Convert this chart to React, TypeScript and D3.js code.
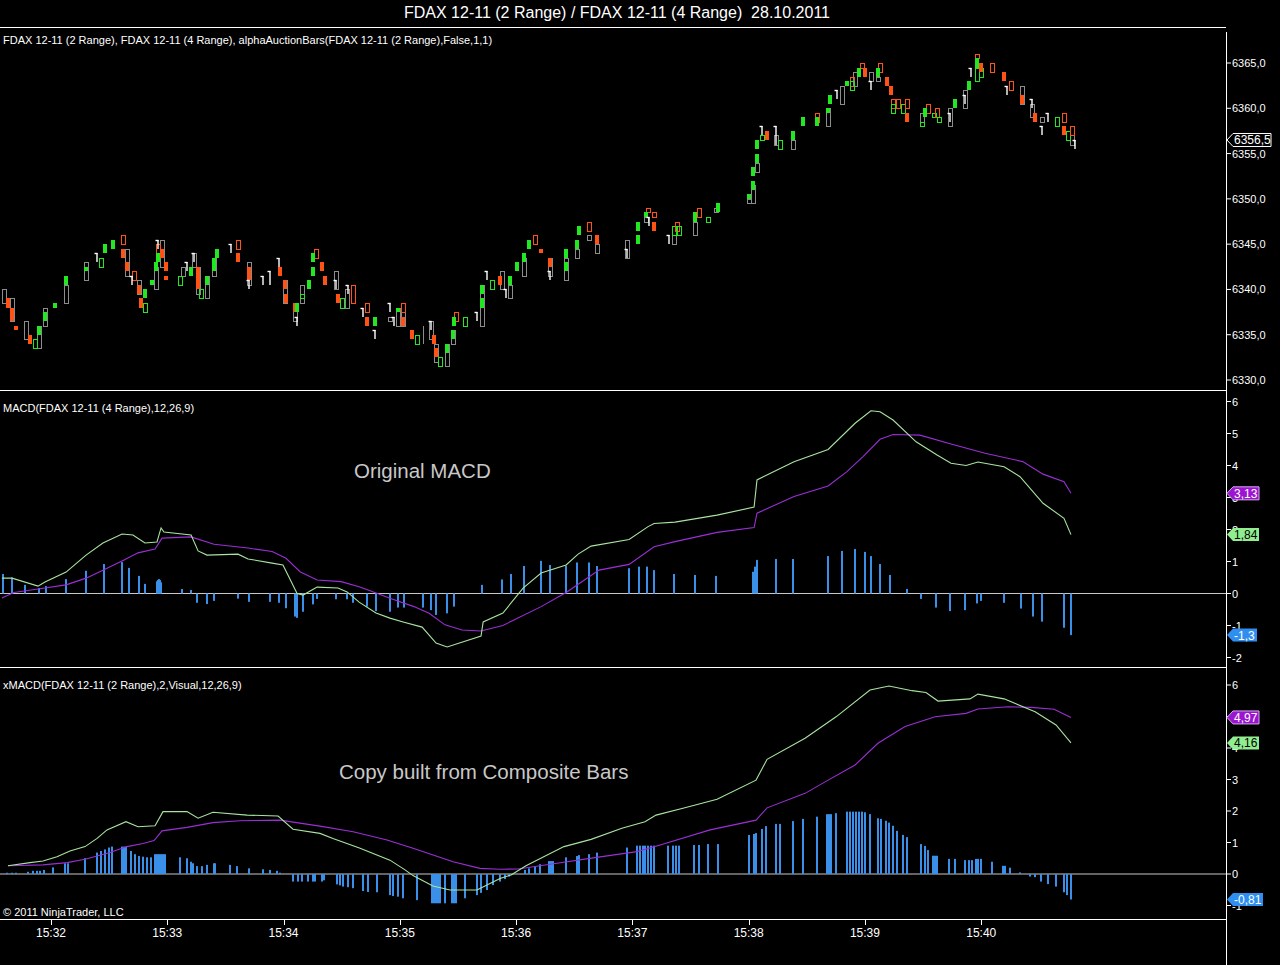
import * as d3 from 'd3';

// time is seconds after 15:31:00
const timeTicks = [60, 120, 180, 240, 300, 360, 420, 480, 540];
const timeLabels = ['15:32', '15:33', '15:34', '15:35', '15:36', '15:37', '15:38', '15:39', '15:40'];

const priceTicks = [6330, 6335, 6340, 6345, 6350, 6355, 6360, 6365];
const macdTicks = [-2, -1, 0, 1, 2, 3, 4, 5, 6];
const xmacdTicks = [-1, 0, 1, 2, 3, 4, 5, 6];
const lastPrice = 6356.5;

// [time, body top, body bottom, style]  G/R filled, g/r hollow, x grey 4-range, w doji, k wick only
const candles: [number, number, number, string][] = [
  [36, 6340, 6338.5, 'x'], [38, 6339, 6338, 'R'], [40, 6339, 6336.5, 'x'], [40, 6338, 6336.5, 'R'],
  [42, 6336, 6335.5, 'R'], [47, 6336.5, 6334.5, 'x'], [49, 6335, 6334, 'R'], [52, 6334.5, 6333.5, 'g'],
  [54, 6336, 6333.5, 'x'], [54, 6336, 6335, 'G'], [57, 6338, 6336, 'x'], [57, 6337.5, 6336.5, 'G'],
  [62, 6338.5, 6338, 'G'], [68, 6341.5, 6340.5, 'G'], [68, 6340.5, 6338.5, 'x'], [78, 6343, 6341, 'x'],
  [78, 6342.5, 6342, 'G'], [84, 6344, 6343, 'w'], [86, 6343.5, 6342.5, 'g'], [88, 6345, 6344, 'G'],
  [92, 6345.5, 6344.5, 'G'], [97, 6346, 6345, 'r'], [97, 6344.5, 6343.5, 'R'], [99, 6344.5, 6341.5, 'x'],
  [99, 6343, 6342, 'R'], [102, 6341.5, 6340.5, 'w'], [103, 6342, 6341, 'r'], [105.4, 6341, 6339.5, 'x'],
  [105.4, 6340.5, 6339.5, 'R'], [106.5, 6339, 6338, 'R'], [108.5, 6338.5, 6337.5, 'g'], [108.5, 6340, 6339, 'G'],
  [112, 6341, 6340.5, 'G'], [114, 6342.5, 6340, 'x'], [114, 6343, 6342, 'G'], [115.2, 6345, 6344, 'r'],
  [115.2, 6344, 6343, 'G'], [115.2, 6345.5, 6344.5, 'w'], [117.3, 6345.5, 6342.5, 'x'], [117.3, 6344.5, 6343.5, 'R'],
  [119.4, 6343, 6342, 'R'], [119.4, 6341.5, 6341, 'R'], [126.6, 6341.5, 6340.5, 'g'], [128.1, 6342.5, 6341.5, 'x'],
  [130.2, 6343, 6342, 'w'], [132.3, 6342.5, 6341.5, 'G'], [133.8, 6344, 6342.5, 'x'], [133.8, 6344, 6343, 'w'],
  [135.9, 6342.5, 6339.5, 'x'], [135.9, 6342.5, 6340, 'R'], [137.4, 6340, 6339, 'g'], [140.5, 6341.5, 6339, 'x'],
  [140.5, 6341.5, 6340.5, 'G'], [144.1, 6343.5, 6341.5, 'x'], [144.1, 6343.5, 6342, 'G'], [145.7, 6344.5, 6343.5, 'G'],
  [152.9, 6345, 6344, 'w'], [156.5, 6345.5, 6344.5, 'r'], [156.5, 6344, 6343, 'R'], [162.2, 6343, 6340.5, 'x'],
  [162.2, 6342.5, 6341, 'R'], [162.2, 6341, 6340, 'w'], [169.4, 6341.5, 6340.5, 'w'], [173, 6342, 6340.5, 'w'],
  [177.7, 6343.5, 6342.5, 'w'], [178.2, 6342.5, 6341.5, 'R'], [180.8, 6341, 6338.5, 'x'], [180.8, 6341, 6340, 'R'],
  [181.3, 6339.5, 6338.5, 'R'], [186, 6338.5, 6336.5, 'x'], [186, 6338.5, 6337.5, 'R'], [187, 6338.5, 6337.5, 'G'],
  [187, 6337, 6336, 'w'], [189.6, 6340.5, 6338.5, 'x'], [189.6, 6339.5, 6339, 'g'], [193.2, 6341, 6340, 'G'],
  [195.2, 6342.5, 6341.5, 'G'], [195.2, 6344, 6343, 'G'], [196.8, 6344.5, 6343.5, 'r'], [199.9, 6343, 6342, 'R'],
  [201.4, 6341.5, 6340.5, 'R'], [207.1, 6342, 6340, 'x'], [207.1, 6341, 6340, 'w'], [208.1, 6339.5, 6338.5, 'R'],
  [210.2, 6339, 6338, 'g'], [212.8, 6340, 6338, 'x'], [213.3, 6340.5, 6339.5, 'w'], [215.9, 6340.5, 6338.5, 'r'],
  [221, 6338, 6337, 'w'], [223.1, 6338.5, 6337.5, 'r'], [223.1, 6337, 6336, 'R'], [227.2, 6337, 6336, 'G'],
  [227.2, 6335.5, 6334.5, 'w'], [235, 6338.5, 6337.5, 'w'], [235, 6337, 6336.5, 'x'], [237, 6337, 6336, 'w'],
  [239.1, 6338, 6336, 'x'], [239.1, 6338, 6337.5, 'G'], [241.7, 6338.5, 6336, 'x'], [241.7, 6338.5, 6337.5, 'r'],
  [241.7, 6337, 6336, 'R'], [246.3, 6335.5, 6334.5, 'R'], [248.9, 6335, 6334, 'g'], [252, 6336, 6334, 'k'],
  [256.1, 6336.5, 6334.5, 'x'], [256.1, 6336.5, 6335.5, 'w'], [257.6, 6335, 6334, 'R'], [258.7, 6334, 6332, 'x'],
  [258.7, 6333.5, 6332.5, 'R'], [260.7, 6332.5, 6331.5, 'g'], [264.4, 6334, 6331.5, 'x'], [264.4, 6334, 6333, 'G'],
  [267.5, 6335.5, 6334, 'x'], [267.5, 6335.5, 6334.5, 'G'], [268, 6337, 6336, 'G'], [269, 6337.5, 6336.5, 'r'],
  [273.7, 6337, 6336, 'g'], [279.9, 6337.5, 6336.5, 'w'], [282.4, 6340.5, 6336, 'x'], [282.4, 6339, 6338, 'G'],
  [282.4, 6340.5, 6339.5, 'G'], [285, 6342, 6341, 'w'], [287.6, 6341, 6340, 'g'], [291.7, 6341.5, 6340.5, 'R'],
  [292.8, 6342, 6340, 'x'], [294.8, 6340, 6339, 'w'], [296.9, 6341.5, 6340.5, 'G'], [296.9, 6340.5, 6339, 'x'],
  [300.5, 6343, 6342, 'G'], [304.1, 6343.5, 6341.5, 'x'], [304.1, 6344, 6343, 'G'], [306.7, 6345.5, 6344.5, 'G'],
  [309.8, 6346, 6345, 'r'], [312.9, 6344.5, 6344, 'R'], [317.5, 6343.5, 6341.5, 'x'], [317.5, 6343.5, 6342.5, 'R'],
  [317.5, 6342, 6341, 'w'], [325.8, 6343.5, 6341, 'x'], [325.8, 6344.5, 6343.5, 'G'], [325.8, 6343, 6342, 'G'],
  [331.5, 6345.5, 6344.5, 'G'], [331.5, 6344.5, 6343.5, 'x'], [332.5, 6347, 6346, 'G'], [337.7, 6347.5, 6346.5, 'r'],
  [337.7, 6346, 6345.5, 'x'], [341.8, 6346, 6345, 'R'], [341.8, 6345, 6344, 'x'], [357.3, 6345.5, 6343.5, 'x'],
  [357.3, 6344.5, 6343.5, 'w'], [363, 6346, 6345, 'G'], [363, 6347.5, 6346.5, 'G'], [367.1, 6348.5, 6348, 'G'],
  [367.1, 6348, 6347.5, 'x'], [368.1, 6349, 6348.5, 'r'], [368.6, 6348, 6347, 'w'], [371.2, 6348.5, 6348, 'r'],
  [371.2, 6347.5, 6346.5, 'R'], [379, 6346, 6345, 'w'], [381.5, 6347, 6345, 'x'], [381.5, 6347, 6346, 'g'],
  [383.1, 6347.5, 6346.5, 'r'], [384.1, 6347, 6346, 'g'], [392.3, 6348.5, 6347.5, 'G'], [392.3, 6347.5, 6346, 'x'],
  [394.4, 6349, 6348, 'r'], [399, 6348, 6347.5, 'g'], [403.2, 6349, 6348.5, 'x'], [404.2, 6349.5, 6348.5, 'G'],
  [420.2, 6350.5, 6350, 'G'], [420.2, 6350, 6349.5, 'x'], [422.3, 6351.5, 6349.5, 'x'], [422.3, 6352, 6351, 'G'],
  [422.3, 6353.5, 6352.5, 'G'], [424.4, 6356.5, 6355.5, 'G'], [424.4, 6355, 6354, 'G'], [424.4, 6354, 6353, 'x'],
  [427, 6358, 6357, 'w'], [427, 6357, 6356.5, 'g'], [429.5, 6357.5, 6356.5, 'R'], [434.2, 6358, 6356, 'w'],
  [434.2, 6357, 6356, 'x'], [436.2, 6356.5, 6355.5, 'g'], [443, 6357.5, 6356.5, 'G'], [443, 6356.5, 6355.5, 'x'],
  [448.1, 6359, 6358, 'G'], [455.3, 6359.5, 6358.5, 'r'], [455.3, 6359, 6358, 'G'], [461, 6360, 6358, 'x'],
  [461, 6360, 6359.5, 'G'], [462, 6361.5, 6360.5, 'G'], [465.6, 6362, 6361, 'w'], [468.2, 6362.5, 6360.5, 'x'],
  [470.8, 6363, 6362.5, 'G'], [473.4, 6363.5, 6362.5, 'r'], [473.4, 6363, 6362, 'g'], [475, 6364, 6362.5, 'x'],
  [477, 6364.5, 6363.5, 'G'], [478.6, 6365, 6364.5, 'r'], [480.1, 6364.5, 6363.5, 'R'], [483.2, 6364, 6363, 'x'],
  [483.2, 6363, 6362, 'w'], [486.8, 6364.5, 6363.5, 'G'], [486.8, 6363.5, 6363, 'x'], [487.8, 6365, 6364, 'r'],
  [491.5, 6363.5, 6362.5, 'R'], [493.5, 6362.5, 6361.5, 'R'], [494.5, 6361, 6360, 'r'], [494.5, 6360.5, 6359.5, 'g'],
  [497.1, 6361, 6360, 'r'], [499.7, 6360.5, 6359.5, 'g'], [501.8, 6361, 6360, 'r'], [501.8, 6359.5, 6358.5, 'R'],
  [509.5, 6359.5, 6358, 'x'], [509.5, 6358.5, 6358, 'g'], [511.1, 6360, 6359, 'G'], [512.6, 6360.5, 6359.5, 'r'],
  [515.7, 6359.5, 6359, 'g'], [517.2, 6360, 6359, 'r'], [518.3, 6359, 6358.5, 'g'], [524, 6360, 6358, 'x'],
  [524, 6359.5, 6358.5, 'w'], [526.5, 6361, 6360, 'G'], [531.7, 6362, 6360, 'x'], [531.7, 6361.5, 6360.5, 'w'],
  [533.7, 6363, 6362, 'G'], [534.8, 6364.5, 6363.5, 'w'], [537.9, 6366, 6365.5, 'r'], [537.9, 6365.5, 6364.5, 'G'],
  [537.9, 6364.5, 6363, 'g'], [540, 6365, 6364, 'R'], [540, 6364.5, 6363.5, 'g'], [545.6, 6365, 6364, 'r'],
  [551.8, 6364, 6363, 'R'], [553.4, 6362.5, 6361.5, 'w'], [555.4, 6363, 6362, 'r'], [561.1, 6362.5, 6360.5, 'x'],
  [561.1, 6361.5, 6360.5, 'R'], [566.3, 6361, 6360, 'w'], [566.3, 6360.5, 6359, 'x'], [567.8, 6359.5, 6358.5, 'R'],
  [571.5, 6358, 6357, 'w'], [571.5, 6359, 6358.5, 'x'], [574.5, 6359.5, 6358.5, 'w'], [579.2, 6359, 6358, 'g'],
  [582.8, 6359.5, 6358.5, 'r'], [582.8, 6358, 6357, 'R'], [584.9, 6357.5, 6356.5, 'g'], [587, 6358, 6357, 'r'],
  [587, 6357, 6356, 'x'], [588.5, 6356.5, 6355.5, 'w'],
];

// MACD(4 Range) [time, value]
const macdLine: [number, number][] = [
  [34.7, 0.48], [39.9, 0.48], [53.3, 0.23], [56.9, 0.36], [67.8, 0.67], [78.1, 1.2], [86.8, 1.58], [96.7, 1.86],
  [102.3, 1.83], [108.5, 1.58], [114.7, 1.61], [116.8, 2.05], [118.3, 1.92], [132.3, 1.83], [135.9, 1.33],
  [140.5, 1.2], [156.5, 1.23], [161.7, 1.08], [174.1, 0.95], [179.7, 0.89], [187, 0.0], [190.1, -0.05],
  [197.3, 0.2], [208.1, 0.17], [212.8, 0.05], [219, -0.27], [227.7, -0.61], [234.9, -0.77], [241.7, -0.89],
  [251.5, -1.05], [258.7, -1.55], [264.4, -1.67], [281.9, -1.33], [283, -0.89], [293.2, -0.61], [303.6, 0.17],
  [312.9, 0.64], [325.8, 0.89], [332, 1.23], [338.7, 1.48], [358.3, 1.69], [368.1, 2.09], [371.2, 2.19],
  [382, 2.23], [403.7, 2.45], [422.8, 2.7], [424.3, 3.55], [443.4, 4.12], [461, 4.5], [474.9, 5.32],
  [483.1, 5.71], [487.8, 5.68], [494.5, 5.42], [506.4, 4.74], [517.2, 4.33], [524.4, 4.07], [532.2, 4.0],
  [538.3, 4.11], [551.8, 3.96], [560, 3.65], [571.9, 2.82], [582.7, 2.35], [586.3, 1.84],
];
const macdAvg: [number, number][] = [
  [34.7, -0.14], [40.9, 0.03], [53.3, 0.14], [67.8, 0.27], [78.1, 0.48], [86.8, 0.73], [97.7, 1.05],
  [104.9, 1.27], [113.7, 1.39], [117.3, 1.73], [132.3, 1.77], [144.1, 1.54], [161.7, 1.42], [174.1, 1.31],
  [181.3, 1.1], [188.5, 0.68], [197.3, 0.42], [209.7, 0.37], [219, 0.21], [225.7, 0.06], [234.9, -0.15],
  [247.3, -0.41], [255.1, -0.62], [263.3, -0.98], [272.1, -1.14], [281.9, -1.17], [293.2, -1.0],
  [312.9, -0.41], [325.8, 0.03], [342.8, 0.73], [358.3, 0.91], [371.2, 1.46], [382, 1.62], [403.7, 1.91],
  [422.8, 2.06], [424.3, 2.51], [443.4, 3.03], [461, 3.36], [470.7, 3.81], [479, 4.28], [487.8, 4.82],
  [494.5, 4.97], [508.4, 4.95], [524.4, 4.67], [542, 4.38], [561.6, 4.12], [571.9, 3.73], [582.7, 3.49],
  [586.3, 3.13],
];
const macdDiff: [number, number][] = [
  [35.2, 0.61], [39.9, 0.5], [46.6, 0.27], [53.8, 0.17], [57.4, 0.23], [67.8, 0.45], [78.1, 0.71], [87.4, 0.92],
  [96.7, 0.98], [100.3, 0.8], [105.4, 0.55], [108.5, 0.3], [114.7, 0.38], [115.2, 0.42], [115.7, 0.45],
  [116.3, 0.42], [116.8, 0.35], [127.6, 0.14], [132.3, 0.11], [135.4, -0.29], [140.5, -0.33], [144.1, -0.23],
  [156.5, -0.16], [162.2, -0.26], [173, -0.26], [177.7, -0.29], [181.3, -0.46], [186, -0.72], [187, -0.76],
  [190.1, -0.57], [195.2, -0.34], [197.3, -0.17], [207.1, -0.18], [212.8, -0.18], [215.9, -0.29],
  [223.1, -0.41], [227.7, -0.55], [234.9, -0.57], [239.1, -0.44], [242.2, -0.44], [252, -0.44],
  [256.1, -0.52], [258.7, -0.67], [264.4, -0.62], [268, -0.41], [282.4, 0.27], [292.7, 0.44], [297.4, 0.61],
  [304.1, 0.86], [312.9, 1.02], [317.5, 0.89], [325.8, 0.87], [331.4, 0.97], [337.6, 0.97], [341.8, 0.86],
  [358.3, 0.79], [363.4, 0.84], [367.6, 0.84], [371.2, 0.73], [381.5, 0.61], [392.3, 0.58], [403.2, 0.55],
  [422.3, 0.68], [423.3, 0.84], [424.3, 1.05], [434.1, 1.08], [442.9, 1.08], [461, 1.17], [468.2, 1.33],
  [474.9, 1.39], [480.1, 1.3], [483.1, 1.17], [487.8, 0.92], [493, 0.58], [501.7, 0.14], [508.9, -0.17],
  [516.7, -0.44], [523.9, -0.55], [531.6, -0.52], [537.8, -0.31], [539.9, -0.23], [551.8, -0.29],
  [560.5, -0.47], [566.7, -0.72], [571.4, -0.88], [582.7, -1.07], [586.3, -1.3],
];

// xMACD(2 Range) built from composite bars
const xmacdLine: [number, number][] = [
  [37.8, 0.26], [49.2, 0.36], [55.9, 0.41], [63.1, 0.55], [69.8, 0.73], [77.6, 0.87], [83.8, 1.13], [88.9, 1.4],
  [98.7, 1.66], [104.9, 1.5], [113.7, 1.53], [117.8, 1.98], [130.2, 1.98], [135.9, 1.77], [143.6, 1.96],
  [161.2, 1.87], [177.2, 1.84], [184.9, 1.42], [198.8, 1.29], [205.5, 1.13], [219.5, 0.82], [234.9, 0.44],
  [242.7, 0.13], [246.8, -0.05], [257.1, -0.38], [265.9, -0.51], [279.8, -0.51], [291.7, -0.14],
  [297.4, -0.03], [305.1, 0.26], [324.7, 0.87], [338.7, 1.1], [354.6, 1.45], [366.5, 1.66], [372.2, 1.87],
  [386.1, 2.09], [403.7, 2.37], [423.8, 2.98], [429.5, 3.64], [449.1, 4.31], [465.1, 4.99], [482.6, 5.84],
  [492.4, 5.97], [504.3, 5.82], [511.5, 5.76], [517.7, 5.49], [534.2, 5.56], [538.3, 5.71], [551.8, 5.56],
  [567.8, 5.15], [578.6, 4.73], [586.3, 4.16],
];
const xmacdAvg: [number, number][] = [
  [37.8, 0.26], [55.9, 0.29], [68.3, 0.36], [77.6, 0.47], [90.5, 0.68], [99.2, 0.87], [107.5, 0.97],
  [113.2, 1.06], [117.3, 1.37], [130.2, 1.48], [143.6, 1.63], [157.5, 1.69], [178.2, 1.71], [198.8, 1.52],
  [215.9, 1.34], [233.4, 1.08], [246.8, 0.82], [267.5, 0.39], [281.4, 0.18], [291.7, 0.15], [301, 0.16],
  [321.1, 0.34], [340.7, 0.52], [362.4, 0.71], [374.3, 0.92], [400.1, 1.4], [423.8, 1.71], [429.5, 2.1],
  [449.1, 2.56], [461, 2.98], [474.9, 3.46], [486.7, 4.15], [500.7, 4.68], [516.2, 4.99], [532.2, 5.1],
  [538.3, 5.24], [553.8, 5.31], [565.7, 5.29], [577.6, 5.23], [586.3, 4.97],
];
const xmacdDiff: [number, number][] = [
  [37.3, 0.04], [39.9, 0.04], [42, 0.04], [48.1, 0.07], [50.7, 0.1], [52.8, 0.1], [54.3, 0.1], [56.4, 0.13],
  [61, 0.21], [67.2, 0.34], [68.8, 0.34], [77.6, 0.5], [83.8, 0.68], [85.8, 0.73], [87.9, 0.78], [89.9, 0.84],
  [91.5, 0.87], [96.7, 0.87], [97.7, 0.87], [98.7, 0.87], [101.3, 0.73], [103.4, 0.63], [105.4, 0.57],
  [107.5, 0.55], [109.6, 0.53], [111.6, 0.53], [113.7, 0.63], [114.7, 0.63], [115.7, 0.63], [116.8, 0.63],
  [117.8, 0.63], [118.8, 0.63], [126.6, 0.53], [130.2, 0.5], [132.3, 0.39], [133.3, 0.34], [135.4, 0.25],
  [138, 0.25], [140.5, 0.29], [144.1, 0.34], [144.6, 0.34], [152.4, 0.29], [156, 0.25], [162.2, 0.18],
  [169.4, 0.15], [173, 0.13], [176.6, 0.1], [178.2, 0.04], [184.9, -0.24], [187.5, -0.24], [189.5, -0.24],
  [192.6, -0.24], [195.2, -0.24], [196.2, -0.24], [199.9, -0.24], [200.9, -0.2], [207.6, -0.33],
  [209.1, -0.36], [210.7, -0.4], [213.3, -0.42], [215.9, -0.45], [221, -0.54], [223.6, -0.57], [228.2, -0.58],
  [234.9, -0.67], [236.5, -0.7], [239.1, -0.72], [241.7, -0.77], [248.9, -0.83], [256.6, -0.93],
  [257.6, -0.93], [258.7, -0.93], [259.7, -0.93], [260.7, -0.93], [263.3, -0.93], [266.9, -0.93], [268, -0.93],
  [269, -0.93], [273.6, -0.77], [279.8, -0.67], [281.9, -0.6], [285, -0.51], [288.1, -0.35], [291.7, -0.24],
  [294.3, -0.16], [296.3, -0.08], [304.6, 0.13], [306.7, 0.18], [309.8, 0.25], [312.3, 0.31], [317, 0.41],
  [318, 0.41], [319, 0.41], [325.8, 0.53], [331.4, 0.57], [332.5, 0.6], [337.6, 0.63], [341.8, 0.68],
  [357.2, 0.84], [362.4, 0.9], [364, 0.9], [365.5, 0.9], [366.5, 0.9], [368.1, 0.9], [369.6, 0.9], [371.2, 0.9],
  [378.4, 0.9], [381, 0.9], [382.5, 0.9], [384.1, 0.9], [391.8, 0.92], [394.4, 0.92], [399, 0.95],
  [404.2, 0.95], [420.2, 1.24], [422.8, 1.27], [423.8, 1.3], [426.9, 1.43], [429, 1.52], [434.1, 1.59],
  [436.2, 1.59], [442.9, 1.68], [448.1, 1.75], [455.3, 1.82], [460.4, 1.9], [461.5, 1.9], [462.5, 1.9],
  [465.1, 1.93], [470.8, 1.98], [472.3, 1.98], [473.9, 1.98], [475.4, 1.98], [477, 1.98], [478.5, 1.98],
  [480.1, 1.96], [482.6, 1.9], [486.7, 1.77], [488.3, 1.75], [490.9, 1.69], [492.4, 1.63], [494.5, 1.53],
  [496.6, 1.37], [499.7, 1.24], [501.7, 1.17], [508.9, 0.95], [511, 0.89], [512.5, 0.76], [515.1, 0.58],
  [516.2, 0.58], [517.2, 0.58], [523.4, 0.48], [526.5, 0.48], [531.6, 0.44], [533.7, 0.44], [535.3, 0.44],
  [537.3, 0.48], [538.4, 0.48], [539.9, 0.48], [545.6, 0.39], [551.3, 0.26], [552.3, 0.26], [554.9, 0.2],
  [560, 0.05], [565.2, -0.08], [567.8, -0.1], [570.9, -0.24], [574.5, -0.32], [578.6, -0.4], [582.7, -0.58],
  [584.3, -0.67], [586.3, -0.81],
];

const FONT = "'Liberation Sans', Arial, sans-serif";
const AXIS_X = 1226;
const GREEN = '#22e822';
const ORANGE = '#ff5214';
const GREY = '#8c8c8c';
const LINE_GREEN = '#a8e4a0';
const PURPLE = '#9a2fd6';
const BLUE = '#3a8fe8';

const x = d3.scaleLinear().domain([33.7, 666.3]).range([0, AXIS_X]);
const yPrice = d3.scaleLinear().domain([6330, 6365]).range([380, 63]);
const yMacd = d3.scaleLinear().domain([0, 6]).range([593.5, 401.5]);
const yX = d3.scaleLinear().domain([0, 6]).range([874, 685]);

const fmt = (v: number, d: number) => v.toFixed(d).replace('.', ',');

function Flag({ y, text, fill, color, stroke, width }: { y: number; text: string; fill: string; color: string; stroke?: string; width: number }) {
  const x0 = AXIS_X + 1;
  const pts = [[x0, y], [x0 + 6, y - 6.5], [x0 + width, y - 6.5], [x0 + width, y + 6.5], [x0 + 6, y + 6.5]];
  return (
    <g>
      <polygon points={pts.map((p) => p.join(',')).join(' ')} fill={fill} stroke={stroke ?? 'none'} strokeWidth={1} />
      <text x={x0 + 7} y={y + 4.5} fontSize={12} fill={color} fontFamily={FONT}>{text}</text>
    </g>
  );
}

function Histogram({ data, y }: { data: [number, number][]; y: d3.ScaleLinear<number, number> }) {
  const y0 = y(0);
  return (
    <g>
      {data.map(([t, v], i) => {
        const yv = y(v);
        return <rect key={i} x={Math.round(x(t)) - 1} width={2} y={Math.min(yv, y0)} height={Math.abs(yv - y0)} fill={BLUE} />;
      })}
    </g>
  );
}

function Lines({ line, avg, y }: { line: [number, number][]; avg: [number, number][]; y: d3.ScaleLinear<number, number> }) {
  const gen = d3.line<[number, number]>().x((d) => x(d[0])).y((d) => y(d[1]));
  return (
    <g fill="none" strokeWidth={1.1}>
      <path d={gen(avg) ?? ''} stroke={PURPLE} />
      <path d={gen(line) ?? ''} stroke={LINE_GREEN} />
    </g>
  );
}

function Candle({ c }: { c: [number, number, number, string] }) {
  const [t, hi, lo, s] = c;
  const cx = Math.round(x(t));
  const yt = Math.round(yPrice(hi));
  const yb = Math.max(Math.round(yPrice(lo)), yt + 2);
  if (s === 'w') {
    return (
      <g stroke="#ffffff" strokeWidth={1.4}>
        <line x1={cx} x2={cx} y1={yt} y2={yb} />
        <line x1={cx - 2.5} x2={cx + 0.5} y1={yt + 0.5} y2={yt + 0.5} />
      </g>
    );
  }
  if (s === 'k') return <line x1={cx + 0.5} x2={cx + 0.5} y1={yt} y2={yb} stroke={GREY} />;
  if (s === 'G' || s === 'R') {
    return <rect x={cx - 2} y={yt} width={4} height={yb - yt} fill={s === 'G' ? GREEN : ORANGE} />;
  }
  const col = s === 'g' ? GREEN : s === 'r' ? ORANGE : GREY;
  return <rect x={cx - 1.5} y={yt + 0.5} width={4} height={yb - yt} fill="none" stroke={col} strokeWidth={1} />;
}

export default function App() {
  const order = (s: string) => (s === 'x' || s === 'k' ? 0 : s === 'g' || s === 'r' ? 1 : 2);
  const sorted = [...candles].sort((a, b) => order(a[3]) - order(b[3]));
  const axisLabel = { fontSize: 11, fill: '#ffffff', fontFamily: FONT };
  const frameYs = [27.5, 390.5, 667.5, 919.5];
  const lastOf = (a: [number, number][]) => a[a.length - 1][1];

  return (
    <svg width={1280} height={965} style={{ position: 'absolute', left: 0, top: 0, background: '#000' }}>
      <rect width={1280} height={965} fill="#000" />
      <defs>
        <clipPath id="p1"><rect x={0} y={28} width={AXIS_X} height={362} /></clipPath>
        <clipPath id="p2"><rect x={0} y={391} width={AXIS_X} height={276} /></clipPath>
        <clipPath id="p3"><rect x={0} y={668} width={AXIS_X} height={251} /></clipPath>
      </defs>

      <text x={617} y={18} textAnchor="middle" fontSize={16} fill="#fff" fontFamily={FONT} style={{ whiteSpace: 'pre' }}>
        {'FDAX 12-11 (2 Range) / FDAX 12-11 (4 Range)  28.10.2011'}
      </text>

      {/* frame */}
      {frameYs.map((fy) => <line key={fy} x1={0} x2={AXIS_X} y1={fy} y2={fy} stroke="#fff" />)}
      <line x1={AXIS_X + 0.5} x2={AXIS_X + 0.5} y1={32} y2={965} stroke="#fff" />

      {/* price panel */}
      <g clipPath="url(#p1)">{sorted.map((c, i) => <Candle key={i} c={c} />)}</g>
      {priceTicks.map((p) => (
        <g key={p}>
          <line x1={AXIS_X} x2={AXIS_X + 5} y1={yPrice(p)} y2={yPrice(p)} stroke="#fff" />
          <text x={AXIS_X + 6} y={yPrice(p) + 4} {...axisLabel}>{fmt(p, 1)}</text>
        </g>
      ))}
      <Flag y={yPrice(lastPrice)} text={fmt(lastPrice, 1)} fill="#000" color="#fff" stroke="#fff" width={44} />
      <text x={3} y={44} {...axisLabel}>
        FDAX 12-11 (2 Range), FDAX 12-11 (4 Range), alphaAuctionBars(FDAX 12-11 (2 Range),False,1,1)
      </text>

      {/* MACD panel */}
      <line x1={0} x2={AXIS_X} y1={yMacd(0)} y2={yMacd(0)} stroke="#c8c8c8" />
      <g clipPath="url(#p2)">
        <Histogram data={macdDiff} y={yMacd} />
        <Lines line={macdLine} avg={macdAvg} y={yMacd} />
      </g>
      {macdTicks.map((v) => (
        <g key={v}>
          <line x1={AXIS_X} x2={AXIS_X + 5} y1={yMacd(v)} y2={yMacd(v)} stroke="#fff" />
          <text x={AXIS_X + 6} y={yMacd(v) + 4} {...axisLabel}>{v}</text>
        </g>
      ))}
      <Flag y={yMacd(lastOf(macdAvg))} text={fmt(lastOf(macdAvg), 2)} fill="#9b14d2" color="#fff" stroke="#d8a8f0" width={32} />
      <Flag y={yMacd(lastOf(macdLine))} text={fmt(lastOf(macdLine), 2)} fill="#90ee90" color="#000" width={32} />
      <Flag y={yMacd(lastOf(macdDiff))} text={fmt(lastOf(macdDiff), 1)} fill="#2e8ff0" color="#fff" width={30} />
      <text x={3} y={412} {...axisLabel}>MACD(FDAX 12-11 (4 Range),12,26,9)</text>
      <text x={354} y={478} fontSize={20.5} fill="#c8c8c8" fontFamily={FONT}>Original MACD</text>

      {/* xMACD panel */}
      <line x1={0} x2={AXIS_X} y1={yX(0)} y2={yX(0)} stroke="#c8c8c8" />
      <g clipPath="url(#p3)">
        <Histogram data={xmacdDiff} y={yX} />
        <Lines line={xmacdLine} avg={xmacdAvg} y={yX} />
      </g>
      {xmacdTicks.map((v) => (
        <g key={v}>
          <line x1={AXIS_X} x2={AXIS_X + 5} y1={yX(v)} y2={yX(v)} stroke="#fff" />
          <text x={AXIS_X + 6} y={yX(v) + 4} {...axisLabel}>{v}</text>
        </g>
      ))}
      <Flag y={yX(lastOf(xmacdAvg))} text={fmt(lastOf(xmacdAvg), 2)} fill="#9b14d2" color="#fff" stroke="#d8a8f0" width={32} />
      <Flag y={yX(lastOf(xmacdLine))} text={fmt(lastOf(xmacdLine), 2)} fill="#90ee90" color="#000" width={32} />
      <Flag y={yX(lastOf(xmacdDiff))} text={fmt(lastOf(xmacdDiff), 2)} fill="#2e8ff0" color="#fff" width={36} />
      <text x={3} y={689} {...axisLabel}>xMACD(FDAX 12-11 (2 Range),2,Visual,12,26,9)</text>
      <text x={339} y={779} fontSize={20.5} fill="#c8c8c8" fontFamily={FONT}>Copy built from Composite Bars</text>
      <text x={3} y={916} {...axisLabel}>© 2011 NinjaTrader, LLC</text>

      {/* time axis */}
      {timeTicks.map((t, i) => (
        <g key={t}>
          <line x1={Math.round(x(t)) + 0.5} x2={Math.round(x(t)) + 0.5} y1={919} y2={925} stroke="#fff" />
          <text x={x(t)} y={937} textAnchor="middle" fontSize={12} fill="#fff" fontFamily={FONT}>{timeLabels[i]}</text>
        </g>
      ))}
    </svg>
  );
}
